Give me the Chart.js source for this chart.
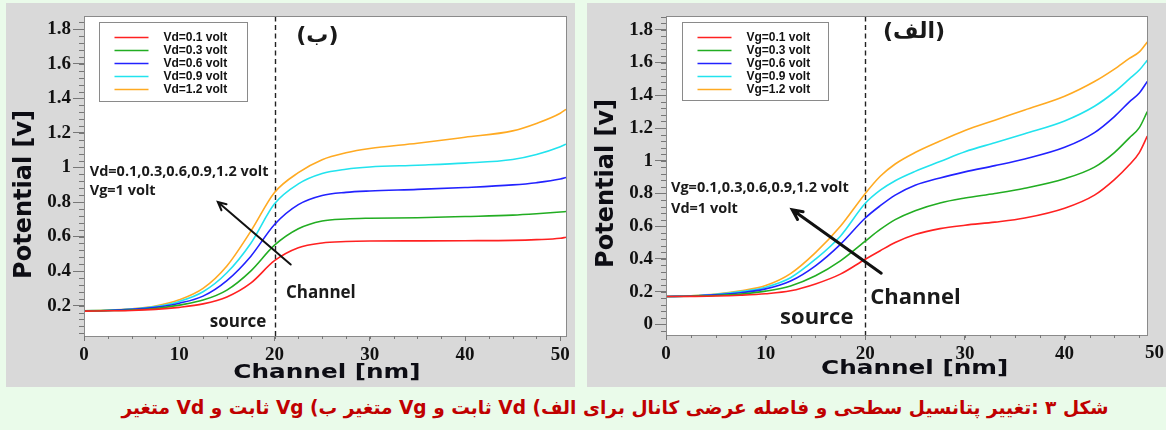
<!DOCTYPE html>
<html lang="fa">
<head>
<meta charset="utf-8">
<title>Potential along the channel</title>
<script src="https://cdn.jsdelivr.net/npm/chart.js@4.4.1/dist/chart.umd.min.js"></script>
<style>
  html, body { margin: 0; padding: 0; }
  body { width: 1166px; height: 430px; background: #eafbea; position: relative; overflow: hidden; }
  .panel { position: absolute; background: #d9d9d9; }
  #panelB { left: 6px; top: 3px; width: 569px; height: 384px; }
  #panelA { left: 587px; top: 3px; width: 579px; height: 384px; }
  .panel canvas { display: block; }
  #caption {
    position: absolute; left: 32px; top: 397px; width: 1166px;
    text-align: center; direction: rtl;
    font: bold 18.6px "DejaVu Sans", sans-serif; color: #c00000;
    white-space: nowrap;
  }
</style>
</head>
<body>
<div class="panel" id="panelB"><canvas id="chartB" width="569" height="384"></canvas></div>
<div class="panel" id="panelA"><canvas id="chartA" width="579" height="384"></canvas></div>
<div id="caption">شکل ۳ :تغییر پتانسیل سطحی و فاصله عرضی کانال برای الف) Vd ثابت و Vg  متغیر ب) Vg ثابت و Vd متغیر</div>

<script>
// ---- Panel (ب): Vg = 1 volt, drain voltage varied ----
const channelB = [0, 2.5, 5, 7.5, 10, 12.5, 15, 17.5, 20, 22.5, 25, 27.5, 30, 35, 40, 45, 47.5, 50, 50.6];
const labelsB = ['Vd=0.1 volt', 'Vd=0.3 volt', 'Vd=0.6 volt', 'Vd=0.9 volt', 'Vd=1.2 volt'];
const vd01 = [0.168, 0.170, 0.172, 0.178, 0.190, 0.210, 0.250, 0.330, 0.460, 0.535, 0.563, 0.571, 0.574, 0.575, 0.576, 0.578, 0.582, 0.590, 0.596];
const vd03 = [0.168, 0.171, 0.175, 0.183, 0.203, 0.232, 0.290, 0.400, 0.550, 0.645, 0.690, 0.702, 0.706, 0.709, 0.716, 0.724, 0.732, 0.742, 0.745];
const vd06 = [0.170, 0.172, 0.178, 0.190, 0.214, 0.255, 0.345, 0.485, 0.670, 0.785, 0.838, 0.856, 0.864, 0.873, 0.884, 0.899, 0.912, 0.933, 0.942];
const vd09 = [0.170, 0.173, 0.180, 0.194, 0.224, 0.280, 0.390, 0.560, 0.790, 0.905, 0.965, 0.990, 1.003, 1.013, 1.025, 1.046, 1.075, 1.120, 1.135];
const vd12 = [0.170, 0.174, 0.182, 0.198, 0.234, 0.300, 0.430, 0.630, 0.855, 0.970, 1.045, 1.085, 1.110, 1.140, 1.175, 1.212, 1.255, 1.314, 1.337];

// ---- Panel (الف): Vd = 1 volt, gate voltage varied ----
const channelA = [0, 2.5, 5, 7.5, 10, 12.5, 15, 17.5, 20, 21.5, 23, 25, 27.5, 30, 33, 36, 40, 43, 45, 46.5, 47.5, 48.3];
const labelsA = ['Vg=0.1 volt', 'Vg=0.3 volt', 'Vg=0.6 volt', 'Vg=0.9 volt', 'Vg=1.2 volt'];
const vg01 = [0.170, 0.171, 0.173, 0.178, 0.187, 0.205, 0.247, 0.307, 0.398, 0.450, 0.500, 0.549, 0.585, 0.606, 0.625, 0.650, 0.710, 0.790, 0.885, 0.975, 1.050, 1.150];
const vg03 = [0.170, 0.172, 0.176, 0.185, 0.203, 0.235, 0.297, 0.388, 0.509, 0.580, 0.640, 0.695, 0.742, 0.772, 0.800, 0.832, 0.890, 0.961, 1.050, 1.140, 1.202, 1.300];
const vg06 = [0.170, 0.173, 0.180, 0.193, 0.217, 0.265, 0.358, 0.489, 0.650, 0.725, 0.790, 0.850, 0.895, 0.932, 0.970, 1.011, 1.082, 1.172, 1.270, 1.360, 1.414, 1.484];
const vg09 = [0.170, 0.174, 0.183, 0.200, 0.227, 0.285, 0.398, 0.539, 0.740, 0.820, 0.878, 0.935, 0.995, 1.055, 1.110, 1.165, 1.243, 1.333, 1.420, 1.500, 1.554, 1.614];
const vg12 = [0.170, 0.175, 0.185, 0.205, 0.237, 0.310, 0.438, 0.599, 0.800, 0.905, 0.980, 1.050, 1.120, 1.185, 1.248, 1.310, 1.394, 1.484, 1.560, 1.625, 1.665, 1.726];

// ---- Axis ticks ----
const channelTicks = [0, 10, 20, 30, 40, 50];
const potentialTicksB = [0.2, 0.4, 0.6, 0.8, 1, 1.2, 1.4, 1.6, 1.8];
const potentialTicksA = [0, 0.2, 0.4, 0.6, 0.8, 1, 1.2, 1.4, 1.6, 1.8];

// Source / channel boundary (nm)
const boundary = 20;

const seriesColors = ['#ff2121', '#22ad22', '#2222ff', '#22e3ee', '#ffaa22'];
const tickFont = { family: '"Liberation Serif", "Times New Roman", serif', size: 19, weight: 'bold' };
const noteFamily = '"Open Sans", "DejaVu Sans", sans-serif';

function drawArrow(ctx, x0, y0, x1, y1, width, head) {
  const ang = Math.atan2(y1 - y0, x1 - x0);
  ctx.save();
  ctx.strokeStyle = '#111';
  ctx.lineWidth = width;
  ctx.lineCap = 'round';
  ctx.beginPath();
  ctx.moveTo(x0, y0);
  ctx.lineTo(x1, y1);
  ctx.moveTo(x1 - head * Math.cos(ang - 0.45), y1 - head * Math.sin(ang - 0.45));
  ctx.lineTo(x1, y1);
  ctx.lineTo(x1 - head * Math.cos(ang + 0.45), y1 - head * Math.sin(ang + 0.45));
  ctx.stroke();
  ctx.restore();
}

// Plot frame, minor ticks, axis titles, inset legend and annotations
const panelDecor = {
  id: 'panelDecor',
  beforeDraw(chart) {
    const { ctx, chartArea: a } = chart;
    ctx.save();
    ctx.fillStyle = '#ffffff';
    ctx.fillRect(a.left, a.top, a.right - a.left, a.bottom - a.top);
    ctx.restore();
  },
  beforeDatasetsDraw(chart, args, o) {
    const { ctx, chartArea: a, scales: { x } } = chart;
    const px = Math.round(x.getPixelForValue(o.boundary)) + 0.5;
    ctx.save();
    ctx.strokeStyle = '#222';
    ctx.lineWidth = 1.4;
    ctx.setLineDash([5, 3.5]);
    ctx.beginPath();
    ctx.moveTo(px, a.top);
    ctx.lineTo(px, a.bottom);
    ctx.stroke();
    ctx.restore();
  },
  afterDraw(chart, args, o) {
    const { ctx, chartArea: a, scales: { x, y } } = chart;
    ctx.save();

    // frame
    ctx.strokeStyle = '#8a8a8a';
    ctx.lineWidth = 1;
    ctx.strokeRect(Math.round(a.left) + 0.5, Math.round(a.top) + 0.5,
                   Math.round(a.right - a.left), Math.round(a.bottom - a.top));

    // minor ticks
    ctx.strokeStyle = '#777';
    ctx.beginPath();
    for (let v = Math.ceil(y.min / 0.04) * 0.04; v <= y.max; v += 0.04) {
      const py = Math.round(y.getPixelForValue(v)) + 0.5;
      ctx.moveTo(a.left - 5, py);
      ctx.lineTo(a.left, py);
    }
    for (let v = 0; v <= x.max; v += 2.5) {
      const px = Math.round(x.getPixelForValue(v)) + 0.5;
      ctx.moveTo(px, a.bottom);
      ctx.lineTo(px, a.bottom + 3);
    }
    ctx.stroke();

    // extra end label on the channel axis
    if (o.endLabel) {
      ctx.font = `bold ${tickFont.size}px ${tickFont.family}`;
      ctx.fillStyle = '#111';
      ctx.textAlign = 'right';
      ctx.textBaseline = 'top';
      ctx.fillText(o.endLabel, chart.width - 2, a.bottom + 9);
    }

    // axis titles
    ctx.fillStyle = '#0d0d14';
    ctx.font = 'bold 24px "DejaVu Sans", sans-serif';
    ctx.textAlign = 'center';
    ctx.textBaseline = 'middle';
    ctx.save();
    ctx.translate(a.left + o.yTitle.dx, a.top + o.yTitle.dy);
    ctx.rotate(-Math.PI / 2);
    ctx.fillText('Potential [v]', 0, 0);
    ctx.restore();

    ctx.save();
    ctx.font = 'bold 19px "DejaVu Sans", sans-serif';
    ctx.translate((a.left + a.right) / 2 + o.xTitle.dx, a.bottom + o.xTitle.dy);
    ctx.scale(1.3, 1);
    ctx.fillText('Channel [nm]', 0, 0);
    ctx.restore();

    // inset legend
    const L = o.legend;
    const bx = Math.round(a.left + L.dx) + 0.5, by = Math.round(a.top + L.dy) + 0.5;
    ctx.fillStyle = '#ffffff';
    ctx.fillRect(bx, by, L.w, L.h);
    ctx.strokeStyle = '#8a8a8a';
    ctx.lineWidth = 1;
    ctx.strokeRect(bx, by, L.w, L.h);
    ctx.font = 'bold 12px "Liberation Sans", Arial, sans-serif';
    ctx.textAlign = 'left';
    ctx.textBaseline = 'middle';
    chart.data.datasets.forEach((ds, i) => {
      const ry = by + 15 + i * 13;
      ctx.strokeStyle = ds.borderColor;
      ctx.lineWidth = 1.6;
      ctx.beginPath();
      ctx.moveTo(bx + 15, ry);
      ctx.lineTo(bx + 49, ry);
      ctx.stroke();
      ctx.fillStyle = '#111';
      ctx.fillText(ds.label, bx + 64, ry + 0.5);
    });

    // text notes placed in data units
    o.notes.forEach(n => {
      ctx.font = n.font;
      ctx.fillStyle = '#1a1a1a';
      ctx.textAlign = n.align || 'left';
      ctx.textBaseline = 'middle';
      ctx.fillText(n.text, x.getPixelForValue(n.x), y.getPixelForValue(n.y));
    });

    // arrow
    const ar = o.arrow;
    drawArrow(ctx, x.getPixelForValue(ar.from[0]), y.getPixelForValue(ar.from[1]),
              x.getPixelForValue(ar.to[0]), y.getPixelForValue(ar.to[1]), ar.width, ar.head);

    ctx.restore();
  }
};

function buildChart(canvasId, xs, seriesList, labels, cfg) {
  const datasets = seriesList.map((vals, i) => ({
    label: labels[i],
    data: xs.map((xv, j) => ({ x: xv, y: vals[j] })),
    borderColor: seriesColors[i],
    borderWidth: 1.6,
    pointRadius: 0,
    cubicInterpolationMode: 'monotone',
    fill: false
  }));
  return new Chart(document.getElementById(canvasId), {
    type: 'line',
    data: { datasets },
    plugins: [panelDecor],
    options: {
      responsive: false,
      animation: false,
      devicePixelRatio: 1,
      layout: { padding: cfg.padding },
      plugins: {
        legend: { display: false },
        tooltip: { enabled: false },
        panelDecor: cfg.decor
      },
      scales: {
        x: {
          type: 'linear',
          min: 0,
          max: cfg.xMax,
          afterBuildTicks: s => { s.ticks = channelTicks.filter(v => v <= cfg.xMax).map(v => ({ value: v })); },
          afterFit: s => { s.height = cfg.xHeight; },
          grid: { drawOnChartArea: false, drawTicks: true, tickLength: 5, color: '#777' },
          border: { display: false },
          ticks: { font: tickFont, color: '#111', padding: 3, maxRotation: 0, autoSkip: false }
        },
        y: {
          type: 'linear',
          min: cfg.yMin,
          max: cfg.yMax,
          afterBuildTicks: s => { s.ticks = cfg.yTicks.map(v => ({ value: v })); },
          afterFit: s => { s.width = cfg.yWidth; },
          grid: { drawOnChartArea: false, drawTicks: true, tickLength: 11, color: '#777' },
          border: { display: false },
          ticks: { font: tickFont, color: '#111', padding: 2, autoSkip: false,
                   callback: v => String(Math.round(v * 10) / 10) }
        }
      }
    }
  });
}

buildChart('chartB', channelB, [vd01, vd03, vd06, vd09, vd12], labelsB, {
  xMax: 50.6, yMin: 0.024, yMax: 1.875, yTicks: potentialTicksB,
  padding: { top: 7, right: 9, left: 0, bottom: 0 }, yWidth: 78, xHeight: 51,
  decor: {
    boundary,
    yTitle: { dx: -59, dy: 178 },
    xTitle: { dx: 2, dy: 37 },
    legend: { dx: 15, dy: 6, w: 148, h: 79 },
    notes: [
      { text: 'Vd=0.1,0.3,0.6,0.9,1.2 volt', x: 0.6, y: 0.976, font: `bold 14.5px ${noteFamily}` },
      { text: 'Vg=1 volt', x: 0.6, y: 0.863, font: `bold 14.5px ${noteFamily}` },
      { text: 'Channel', x: 21.2, y: 0.274, font: `bold 17px ${noteFamily}` },
      { text: 'source', x: 13.2, y: 0.104, font: `bold 17px ${noteFamily}` },
      { text: '(ب)', x: 24.5, y: 1.758, align: 'center', font: 'bold 22px "DejaVu Sans", sans-serif' }
    ],
    arrow: { from: [21.7, 0.438], to: [14.05, 0.80], width: 2, head: 9 }
  }
});

buildChart('chartA', channelA, [vg01, vg03, vg06, vg09, vg12], labelsA, {
  xMax: 48.3, yMin: -0.065, yMax: 1.882, yTicks: potentialTicksA,
  padding: { top: 7.7, right: 18.7, left: 0, bottom: 0 }, yWidth: 79, xHeight: 52,
  decor: {
    boundary,
    endLabel: '50',
    yTitle: { dx: -59, dy: 167 },
    xTitle: { dx: 8, dy: 34 },
    legend: { dx: 15.7, dy: 6, w: 146, h: 78 },
    notes: [
      { text: 'Vg=0.1,0.3,0.6,0.9,1.2 volt', x: 0.5, y: 0.834, font: `bold 14.5px ${noteFamily}` },
      { text: 'Vd=1 volt', x: 0.5, y: 0.705, font: `bold 14.5px ${noteFamily}` },
      { text: 'Channel', x: 20.5, y: 0.165, font: `bold 22px ${noteFamily}` },
      { text: 'source', x: 11.45, y: 0.038, font: `bold 22px ${noteFamily}` },
      { text: '(الف)', x: 24.9, y: 1.788, align: 'center', font: 'bold 22px "DejaVu Sans", sans-serif' }
    ],
    arrow: { from: [21.6, 0.3125], to: [12.67, 0.70], width: 3, head: 11 }
  }
});
</script>
</body>
</html>
